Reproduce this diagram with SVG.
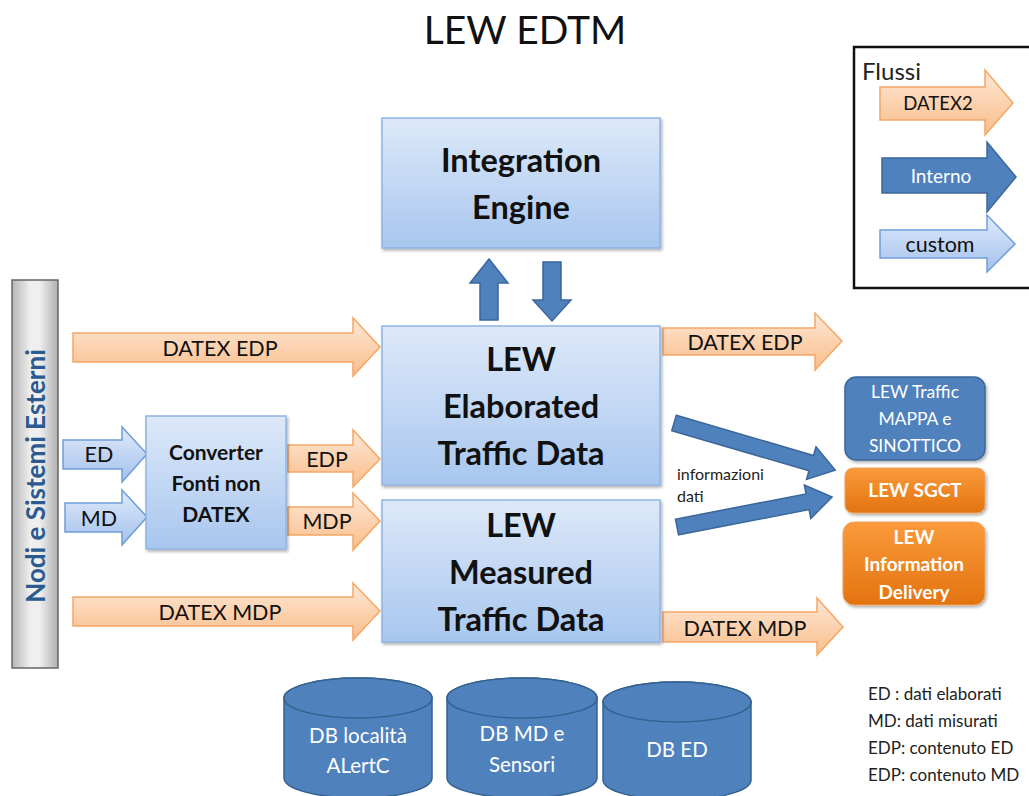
<svg xmlns="http://www.w3.org/2000/svg" width="1029" height="796" viewBox="0 0 1029 796">
  <defs>
    <linearGradient id="gBox" x1="0" y1="0" x2="0" y2="1">
      <stop offset="0" stop-color="#dde9f9"/>
      <stop offset="1" stop-color="#a8c6ee"/>
    </linearGradient>
    <linearGradient id="gOrange" x1="0" y1="0" x2="0" y2="1">
      <stop offset="0" stop-color="#fee8d6"/>
      <stop offset="1" stop-color="#f9bd8a"/>
    </linearGradient>
    <linearGradient id="gCustom" x1="0" y1="0" x2="0" y2="1">
      <stop offset="0" stop-color="#dfeafa"/>
      <stop offset="1" stop-color="#a3c1ec"/>
    </linearGradient>
    <linearGradient id="gOut" x1="0" y1="0" x2="0" y2="1">
      <stop offset="0" stop-color="#fa9a3c"/>
      <stop offset="1" stop-color="#e3740f"/>
    </linearGradient>
    <linearGradient id="gBar" x1="0" y1="0" x2="1" y2="0">
      <stop offset="0" stop-color="#b5b5b5"/>
      <stop offset="0.4" stop-color="#efefef"/>
      <stop offset="0.6" stop-color="#efefef"/>
      <stop offset="1" stop-color="#b0b0b0"/>
    </linearGradient>
    <filter id="shadow" x="-10%" y="-10%" width="125%" height="125%">
      <feDropShadow dx="1.5" dy="2" stdDeviation="1.5" flood-color="#000" flood-opacity="0.3"/>
    </filter>
  </defs>
  <style>
    .box { fill: url(#gBox); stroke: #8fb4e3; stroke-width: 1.5; filter: url(#shadow); }
    .orange { fill: url(#gOrange); stroke: #f5a766; stroke-width: 1.5; }
    .custom { fill: url(#gCustom); stroke: #6f9fd8; stroke-width: 1.5; }
    .blue { fill: #4f81bd; stroke: #3b679b; stroke-width: 1.5; }
    .out { fill: url(#gOut); stroke: #f0a060; stroke-width: 1; filter: url(#shadow); }
    .db { fill: #4f81bd; stroke: #35618f; stroke-width: 1.5; }
    text { font-family: Lato, "Liberation Sans", sans-serif; text-anchor: middle; }
    .big { font-size: 32.5px; font-weight: bold; fill: #111; }
    .lbl { font-size: 21.5px; fill: #111; }
    .conv { font-size: 21px; font-weight: bold; fill: #111; }
    .wht { font-size: 17.5px; fill: #fff; }
    .whtb { font-size: 19px; font-weight: bold; fill: #fff; }
    .dbt { font-size: 20.5px; fill: #fff; }
    .note { font-size: 17px; fill: #222; text-anchor: start; }
  </style>

  <!-- title -->
  <text x="525" y="44" style="font-size:39px" fill="#111">LEW EDTM</text>

  <!-- legend -->
  <g id="legend">
    <rect x="854" y="47" width="190" height="241" fill="#fff" stroke="#111" stroke-width="2.5"/>
    <text x="862" y="80" class="note" style="font-size:24px">Flussi</text>
    <polygon class="orange" points="880,87 985,87 985,70 1013,103 985,135 985,120 880,120"/>
    <text x="938" y="110" class="lbl" style="font-size:18.5px">DATEX2</text>
    <polygon class="blue" points="882,158 987,158 987,142 1016,177 987,212 987,193 882,193"/>
    <text x="941" y="183" class="wht" style="font-size:19px">Interno</text>
    <polygon class="custom" points="880,230 987,230 987,215 1015,244 987,272 987,258 880,258"/>
    <text x="940" y="252" class="lbl">custom</text>
  </g>

  <!-- external nodes bar -->
  <g id="external">
    <rect x="12" y="280" width="46" height="388" fill="url(#gBar)" stroke="#666" stroke-width="1.5"/>
    <text transform="translate(45,476) rotate(-90)" style="font-size:26px;font-weight:bold" fill="#2b5a8f">Nodi e Sistemi Esterni</text>
  </g>

  <!-- connectors -->
  <g id="connectors">
    <polygon class="orange" points="73,333 353,333 353,318 380,347 353,376 353,362 73,362"/>
    <text x="220" y="356" class="lbl">DATEX EDP</text>
    <polygon class="orange" points="73,597 353,597 353,583 380,611 353,640 353,626 73,626"/>
    <text x="220" y="620" class="lbl">DATEX MDP</text>
    <polygon class="custom" points="63,440 122,440 122,427 147,454 122,482 122,469 63,469"/>
    <text x="99" y="462" class="lbl">ED</text>
    <polygon class="custom" points="65,503 122,503 122,490 147,517 122,545 122,532 65,532"/>
    <text x="99" y="526" class="lbl">MD</text>
    <polygon class="orange" points="288,445 353,445 353,430 380,459 353,487 353,472 288,472"/>
    <text x="327" y="467" class="lbl">EDP</text>
    <polygon class="orange" points="288,507 353,507 353,493 380,521 353,550 353,535 288,535"/>
    <text x="327" y="529" class="lbl">MDP</text>
    <polygon class="orange" points="663,328 815,328 815,313 842,341 815,370 815,355 663,355"/>
    <text x="745" y="350" class="lbl">DATEX EDP</text>
    <polygon class="orange" points="663,612 817,612 817,598 843,627 817,655 817,642 663,642"/>
    <text x="745" y="636" class="lbl">DATEX MDP</text>
    <polygon class="blue" points="480,320 480,283 470,283 489,259 508,283 498,283 498,320"/>
    <polygon class="blue" points="543,262 561,262 561,300 571,300 552,321 533,300 543,300"/>
    <polygon class="blue" transform="translate(674,423) rotate(16.3)" points="0,-8 143,-8 143,-17 168,0 143,17 143,8 0,8"/>
    <polygon class="blue" transform="translate(677,527) rotate(-10.95)" points="0,-8 133,-8 133,-17 158,0 133,17 133,8 0,8"/>
    <text x="677" y="480" class="note" style="font-size:16px" fill="#333">informazioni</text>
    <text x="677" y="502" class="note" style="font-size:16px" fill="#333">dati</text>
  </g>

  <!-- core nodes -->
  <g id="integration-engine">
    <rect class="box" x="382" y="118" width="278" height="130"/>
    <text x="521" y="172" class="big">Integration</text>
    <text x="521" y="219" class="big">Engine</text>
  </g>
  <g id="elaborated">
    <rect class="box" x="382" y="326" width="278" height="159"/>
    <text x="521" y="371" class="big">LEW</text>
    <text x="521" y="418" class="big">Elaborated</text>
    <text x="521" y="465" class="big">Traffic Data</text>
  </g>
  <g id="measured">
    <rect class="box" x="382" y="500" width="278" height="142"/>
    <text x="521" y="537" class="big">LEW</text>
    <text x="521" y="584" class="big">Measured</text>
    <text x="521" y="631" class="big">Traffic Data</text>
  </g>
  <g id="converter">
    <rect class="box" x="146" y="416" width="140" height="133"/>
    <text x="216" y="460" class="conv">Converter</text>
    <text x="216" y="491" class="conv">Fonti non</text>
    <text x="216" y="522" class="conv">DATEX</text>
  </g>

  <!-- consumers -->
  <g id="traffic-map">
    <rect class="blue" x="845" y="377" width="140" height="83" rx="11" style="filter:url(#shadow)"/>
    <text x="915" y="398" class="wht">LEW Traffic</text>
    <text x="915" y="425" class="wht">MAPPA e</text>
    <text x="915" y="452" class="wht">SINOTTICO</text>
  </g>
  <g id="sgct">
    <rect class="out" x="845" y="468" width="140" height="45" rx="8"/>
    <text x="915" y="497" class="whtb">LEW SGCT</text>
  </g>
  <g id="info-delivery">
    <rect class="out" x="843" y="522" width="142" height="83" rx="11"/>
    <text x="914" y="544" class="whtb">LEW</text>
    <text x="914" y="571" class="whtb">Information</text>
    <text x="914" y="599" class="whtb">Delivery</text>
  </g>

  <!-- databases -->
  <g id="db-alertc">
    <path class="db" d="M284,698 A74,20 0 0 1 432,698 L432,778 A74,20 0 0 1 284,778 Z"/>
    <ellipse class="db" cx="358" cy="698" rx="74" ry="20"/>
    <text x="358" y="743" class="dbt">DB località</text>
    <text x="358" y="773" class="dbt">ALertC</text>
  </g>
  <g id="db-md">
    <path class="db" d="M447,698 A75,20 0 0 1 597,698 L597,778 A75,20 0 0 1 447,778 Z"/>
    <ellipse class="db" cx="522" cy="698" rx="75" ry="20"/>
    <text x="522" y="741" class="dbt">DB MD e</text>
    <text x="522" y="772" class="dbt">Sensori</text>
  </g>
  <g id="db-ed">
    <path class="db" d="M603,702 A74,20 0 0 1 751,702 L751,780 A74,20 0 0 1 603,780 Z"/>
    <ellipse class="db" cx="677" cy="702" rx="74" ry="20"/>
    <text x="677" y="757" class="dbt">DB ED</text>
  </g>

  <!-- abbreviations -->
  <g id="notes">
    <text x="868" y="700" class="note">ED : dati elaborati</text>
    <text x="868" y="727" class="note">MD: dati misurati</text>
    <text x="868" y="754" class="note">EDP: contenuto ED</text>
    <text x="868" y="781" class="note">EDP: contenuto MD</text>
  </g>
</svg>
